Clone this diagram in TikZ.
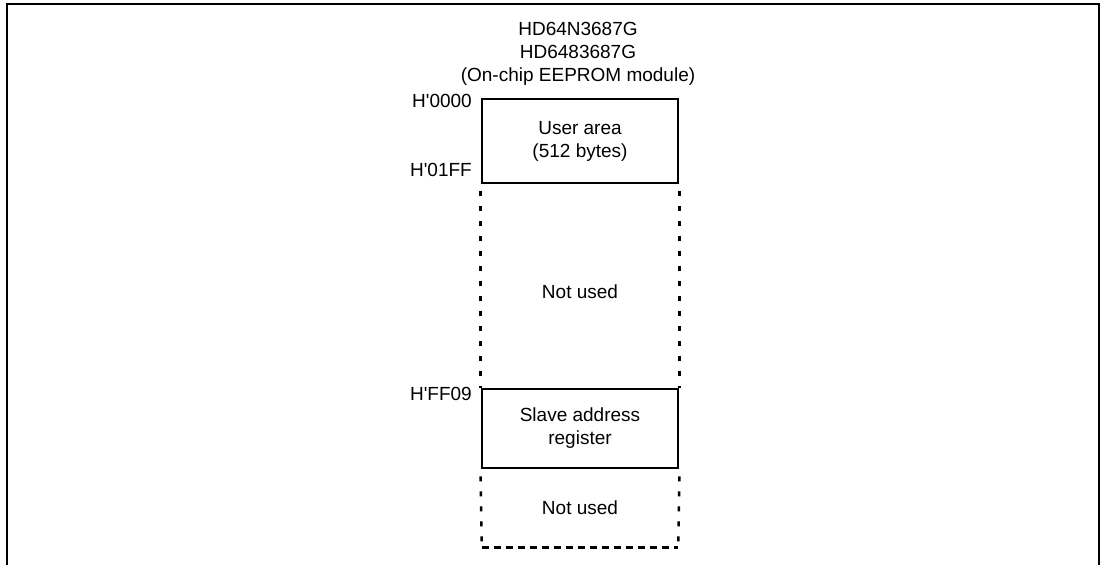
\documentclass[tikz,border=0pt]{standalone}
\usepackage{fontspec}
\setmainfont{Liberation Sans}
\usepackage{tikz}

\begin{document}
\begin{tikzpicture}[x=1pt,y=-1pt,
  every node/.style={font=\fontsize{19}{23}\selectfont, align=center},
  areabox/.style={draw, line width=2.8pt, minimum width=196pt, inner sep=0pt},
  addr/.style={anchor=east, inner sep=0pt},
  gapline/.style={line width=2.6pt, dash pattern=on 5pt off 10pt},
  edgeline/.style={line width=2.6pt, dash pattern=on 7pt off 5pt}]
\useasboundingbox (0,0) rectangle (1106,565);
\draw[line width=2.6pt] (7,565) -- (7,4) -- (1099,4) -- (1099,565);
\node (title) at (578,54) {HD64N3687G\\HD6483687G\\(On-chip EEPROM module)};
\node[areabox, minimum height=84pt] (user) at (580,141) {User area\\(512 bytes)};
\node (unused1) at (580,292) {Not used};
\node[areabox, minimum height=79pt] (slave) at (580,428.5) {Slave address\\register};
\node[minimum width=196pt, minimum height=79pt, inner sep=0pt] (unused2) at (580,507.5) {Not used};
\draw[gapline] ([yshift=-7pt]user.south west) -- (slave.north west);
\draw[gapline] ([yshift=-7pt]user.south east) -- (slave.north east);
\draw[gapline] ([yshift=-7pt]slave.south west) -- (unused2.south west);
\draw[gapline] ([yshift=-7pt]slave.south east) -- (unused2.south east);
\draw[edgeline] (unused2.south west) -- (unused2.south east);
\node[addr] (a0000) at (472,101) {H\textquotesingle0000};
\node[addr] (a01ff) at (472,170) {H\textquotesingle01FF};
\node[addr] (aff09) at (472,394) {H\textquotesingle FF09};
\end{tikzpicture}
\end{document}
